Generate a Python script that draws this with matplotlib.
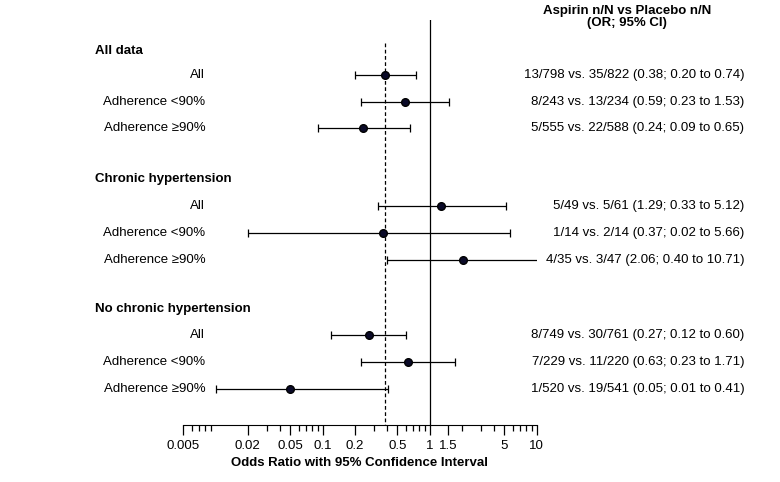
import numpy as np
import matplotlib
matplotlib.use('Agg')
from matplotlib import pyplot as plt
from matplotlib.ticker import FixedLocator, NullFormatter

plt.rcParams['font.family'] = ['Liberation Sans', 'DejaVu Sans']

# data
groups = ['All data', 'Chronic hypertension', 'No chronic hypertension']
sub_labels = ['All', 'Adherence <90%', 'Adherence \u226590%']
odds = [0.38, 0.59, 0.24, 1.29, 0.37, 2.06, 0.27, 0.63, 0.05]
lower = [0.20, 0.23, 0.09, 0.33, 0.02, 0.40, 0.12, 0.23, 0.01]
upper = [0.74, 1.53, 0.65, 5.12, 5.66, 10.71, 0.60, 1.71, 0.41]
counts = ['13/798 vs. 35/822', '8/243 vs. 13/234', '5/555 vs. 22/588',
          '5/49 vs. 5/61', '1/14 vs. 2/14', '4/35 vs. 3/47',
          '8/749 vs. 30/761', '7/229 vs. 11/220', '1/520 vs. 19/541']
pooled_or = 0.38
tick_vals = [0.005, 0.02, 0.05, 0.1, 0.2, 0.5, 1, 1.5, 5, 10]
tick_text = ['0.005', '0.02', '0.05', '0.1', '0.2', '0.5', '1', '1.5', '5', '10']

fig = plt.figure(figsize=(7.8, 4.82), dpi=100)
ax = fig.add_axes([0.235, 0.118, 0.453, 0.840])

# row positions in row units (top=0)
header_y = [0, 4.75, 9.6]
ypos = np.array([0.9, 1.9, 2.85, 5.76, 6.77, 7.78, 10.6, 11.6, 12.6])
odds = np.array(odds); lower = np.array(lower); upper = np.array(upper)

ax.errorbar(odds, ypos, xerr=[odds - lower, upper - odds], fmt='o', color='black',
            markerfacecolor='#0a0a28', markersize=5.5, elinewidth=0.9, capsize=3, capthick=0.9)
ax.axvline(1, color='black', lw=0.9)
ax.plot([pooled_or, pooled_or], [-0.3, 13.95], color='black', lw=0.9, ls=(0, (3, 2)))

ax.set_xscale('log')
ax.set_xlim(0.005, 10)
ax.set_ylim(13.95, -1.16)
ax.xaxis.set_major_locator(FixedLocator(tick_vals))
ax.set_xticklabels(tick_text, fontsize=9.5)
minor = [v * 10 ** e for e in range(-3, 1) for v in range(2, 10)]
ax.xaxis.set_minor_locator(FixedLocator([m for m in minor if 0.005 < m < 10]))
ax.xaxis.set_minor_formatter(NullFormatter())
ax.tick_params(axis='x', which='major', length=7, width=0.9)
ax.tick_params(axis='x', which='minor', length=4, width=0.9)
ax.set_yticks([])
for s in ['left', 'right', 'top']:
    ax.spines[s].set_visible(False)
ax.set_xlabel('Odds Ratio with 95% Confidence Interval', fontsize=9.5, fontweight='bold')

for g, hy in enumerate(header_y):
    ax.text(-0.249, hy, groups[g], transform=ax.get_yaxis_transform(), fontsize=9.5,
            fontweight='bold', ha='left', va='center')
for i, yy in enumerate(ypos):
    ax.text(0.062, yy, sub_labels[i % 3], transform=ax.get_yaxis_transform(), fontsize=9.5,
            ha='right', va='center')
    ax.text(1.588, yy, '%s (%.2f; %.2f to %.2f)' % (counts[i], odds[i], lower[i], upper[i]),
            transform=ax.get_yaxis_transform(), fontsize=9.5, ha='right', va='center')

fig.text(0.804, 0.99, 'Aspirin n/N vs Placebo n/N\n(OR; 95% CI)', fontsize=9.5,
         fontweight='bold', ha='center', va='top', linespacing=1.0)

fig.savefig('out.png', dpi=100)
